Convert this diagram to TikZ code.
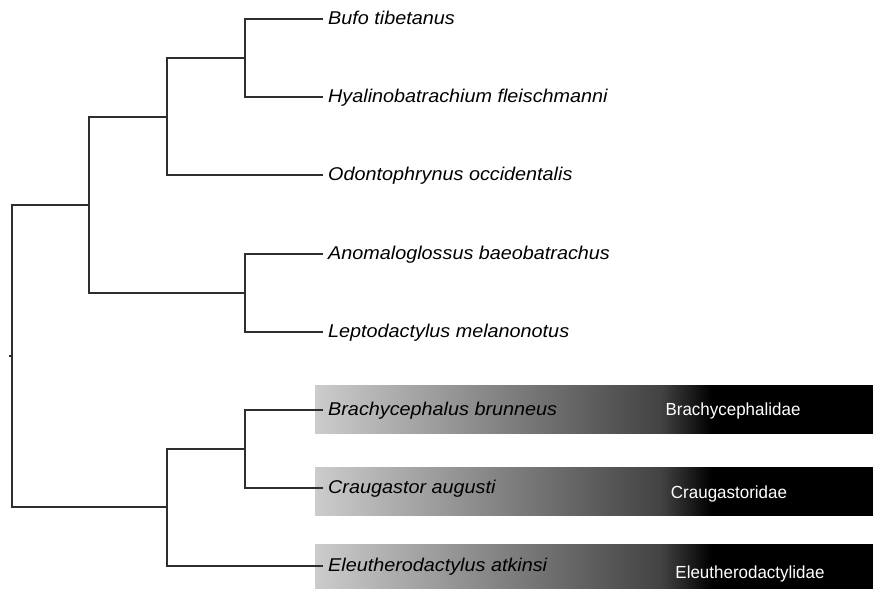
\documentclass[tikz,border=0pt]{standalone}
\usepackage{fontspec}
\setmainfont{Liberation Sans}
\newfontfamily\spfont[FakeStretch=1.07]{Liberation Sans}
\newfontfamily\fmfont[FakeStretch=0.97]{Liberation Sans}
\definecolor{shA}{gray}{0.80}
\definecolor{shB}{gray}{0.26}
\pgfdeclarehorizontalshading{famshade}{100bp}{color(0bp)=(shA); color(25bp)=(shA); color(56bp)=(shB); color(60.5bp)=(black); color(75bp)=(black); color(100bp)=(black)}
\begin{document}
\begin{tikzpicture}[x=1pt,y=-1pt,
  branch/.style={draw=black!82,line width=1.8pt},
  leaf/.style={anchor=west,inner xsep=5pt,inner ysep=0pt,text height=10pt,text depth=0pt,
    font=\spfont\itshape\fontsize{18.5}{20}\selectfont},
  fambar/.style={anchor=north west,shading=famshade,minimum width=558pt,inner sep=0pt},
  famlabel/.style={anchor=base,text=white,inner sep=0pt,font=\fmfont\fontsize{17.5}{20}\selectfont}]
\useasboundingbox (0,0) rectangle (873,589);
% family bars
\node[fambar,minimum height=48pt] (barBr) at (315,385) {};
\node[fambar,minimum height=48pt] (barCr) at (315,467) {};
\node[fambar,minimum height=48pt] (barEl) at (315,544) {};
\node[famlabel] (famBr) at (733,415) {Brachycephalidae};
\node[famlabel] (famCr) at (729,498) {Craugastoridae};
\node[famlabel] (famEl) at (750,578) {Eleutherodactylidae};
% leaves
\node[leaf] (bufo) at (323,19) {Bufo tibetanus};
\node[leaf] (hyal) at (323,97) {Hyalinobatrachium fleischmanni};
\node[leaf] (odon) at (323,175) {Odontophrynus occidentalis};
\node[leaf] (anom) at (323,254) {Anomaloglossus baeobatrachus};
\node[leaf] (lept) at (323,332) {Leptodactylus melanonotus};
\node[leaf] (brac) at (323,410) {Brachycephalus brunneus};
\node[leaf] (crau) at (323,488) {Craugastor augusti};
\node[leaf] (eleu) at (323,566) {Eleutherodactylus atkinsi};
% internal nodes
\coordinate (n1) at (245,58);
\coordinate (n2) at (167,117);
\coordinate (n3) at (245,293);
\coordinate (n4) at (89,205);
\coordinate (n5) at (245,449);
\coordinate (n6) at (167,507);
\coordinate (root) at (12,356);
\coordinate (rootstub) at (9,356);
% branches
\draw[branch] (bufo.west) -| (n1) |- (hyal.west);
\draw[branch] (n1) -| (n2) |- (odon.west);
\draw[branch] (anom.west) -| (n3) |- (lept.west);
\draw[branch] (n2) -| (n4) |- (n3);
\draw[branch] (brac.west) -| (n5) |- (crau.west);
\draw[branch] (n5) -| (n6) |- (eleu.west);
\draw[branch] (n4) -| (root) |- (n6);
\draw[branch] (root) -- (rootstub);
\end{tikzpicture}
\end{document}
